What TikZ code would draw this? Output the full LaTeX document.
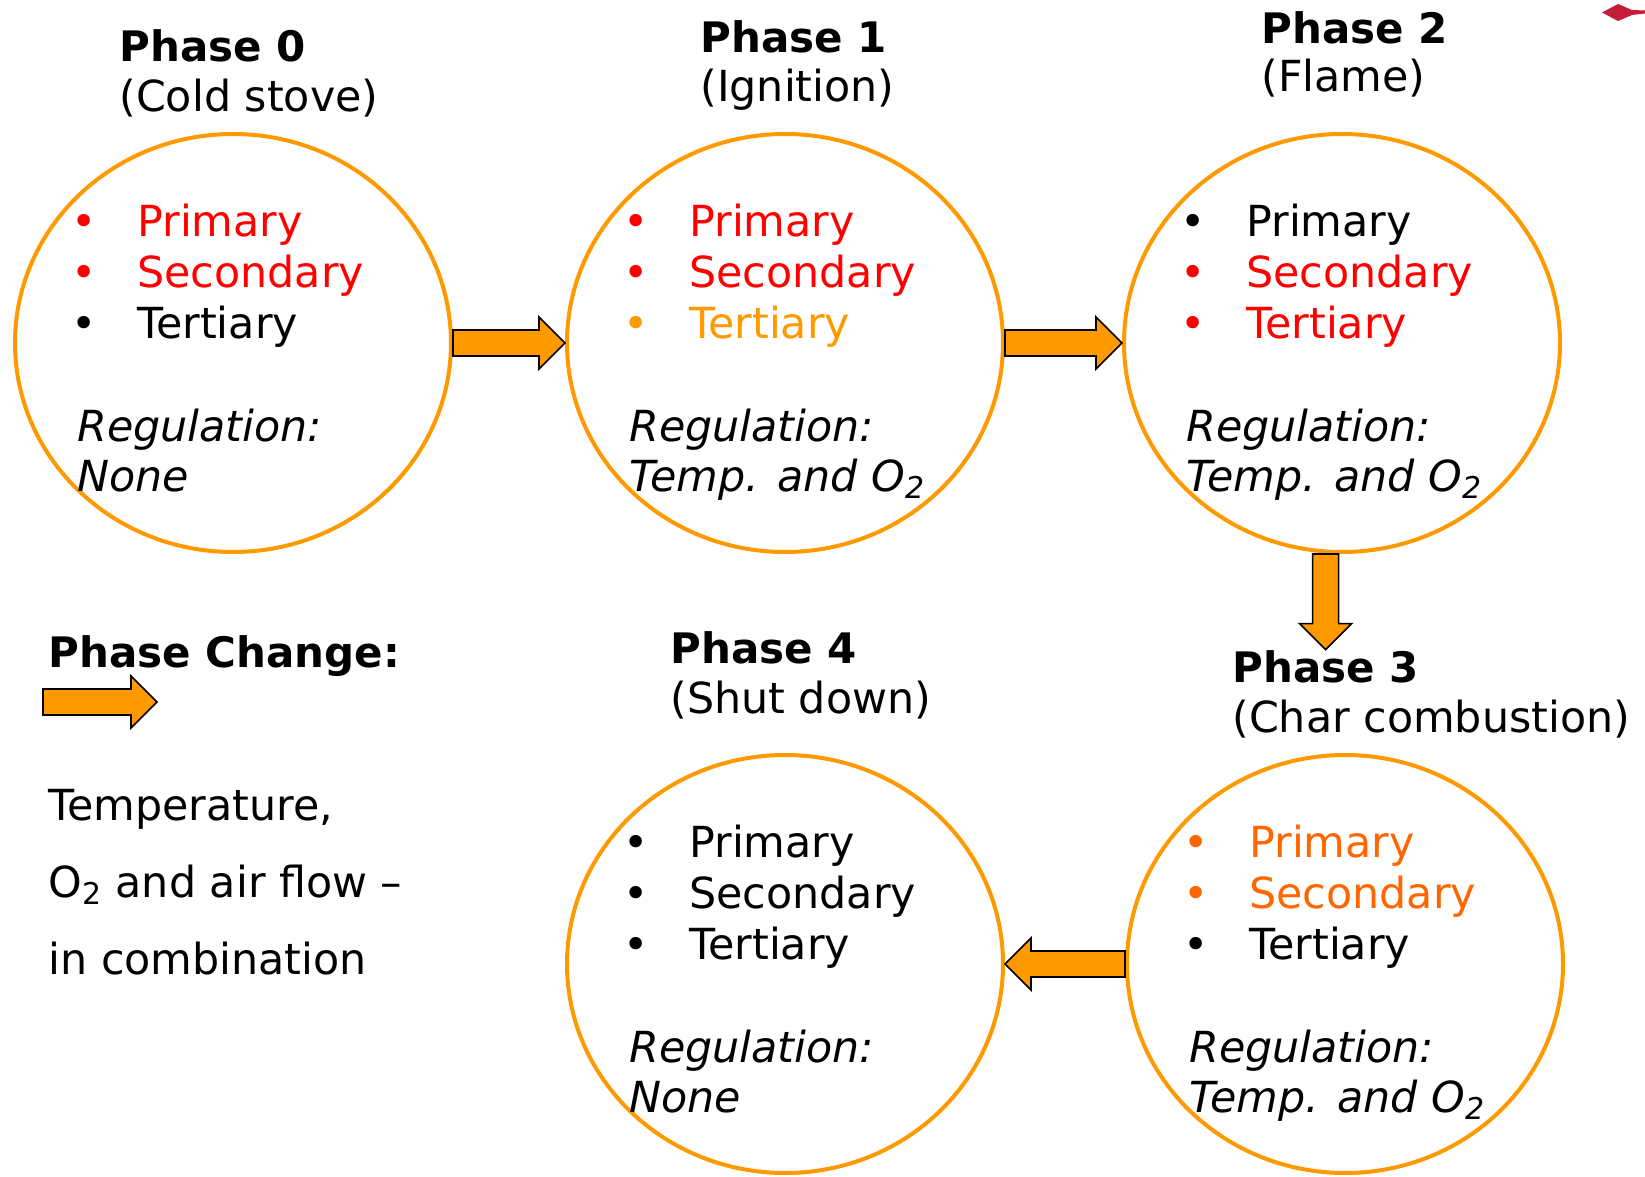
\documentclass[tikz,border=0pt]{standalone}
\usepackage{fontspec}
\setmainfont{DejaVu Sans}
\usetikzlibrary{shapes.geometric, positioning, calc}

\definecolor{stoveorange}{HTML}{FF9900}
\definecolor{charorange}{HTML}{FF6600}
\definecolor{logored}{HTML}{C41E3A}

% bullet hanging to the left of an item
\newcommand{\bitem}{\llap{\makebox[53pt]{\textbullet}}}

\begin{document}
\begin{tikzpicture}[
        x=0.5pt, y=-0.5pt,
        font=\fontsize{21.4}{25}\selectfont,
        Phase/.style={ellipse, draw=stoveorange, line width=2pt, minimum width=218pt, minimum height=209pt, inner sep=0pt},
        Title/.style={inner sep=0pt, anchor=base west, font=\fontsize{21}{25}\selectfont\bfseries},
        Sub/.style={inner sep=0pt, anchor=base west},
        Item/.style={inner sep=0pt, anchor=base west},
        Reg/.style={inner sep=0pt, anchor=base west, font=\fontsize{21.4}{25}\selectfont\itshape},
        Change/.style={draw=black, line width=0.8pt, fill=stoveorange, line join=miter,
            to path={-- ($(\tikztostart)!6.5pt!90:(\tikztotarget)$)
                -- ($(\tikztotarget)!13pt!(\tikztostart)!6.5pt!90:(\tikztotarget)$)
                -- ($(\tikztotarget)!13pt!(\tikztostart)!13pt!90:(\tikztotarget)$)
                -- (\tikztotarget)
                -- ($(\tikztotarget)!13pt!(\tikztostart)!13pt!-90:(\tikztotarget)$)
                -- ($(\tikztotarget)!13pt!(\tikztostart)!6.5pt!-90:(\tikztotarget)$)
                -- ($(\tikztostart)!6.5pt!-90:(\tikztotarget)$) -- cycle}}
    ]
    \useasboundingbox (0,0) rectangle (1645,1177);

    % Phase titles
    \node (t0) [Title] at (119,62) {Phase 0};
    \node (t0s) [Sub] at (119,112) {(Cold stove)};
    \node (t1) [Title] at (700,53) {Phase 1};
    \node (t1s) [Sub] at (700,102) {(Ignition)};
    \node (t2) [Title] at (1261,44) {Phase 2};
    \node (t2s) [Sub] at (1261,92) {(Flame)};
    \node (t3) [Title] at (1232,682) {Phase 3};
    \node (t3s) [Sub] at (1232,732) {(Char combustion)};
    \node (t4) [Title] at (670,663) {Phase 4};
    \node (t4s) [Sub] at (670,713) {(Shut down)};

    % Phase 0: cold stove
    \node (p0) [Phase] at (233,343) {};
    \coordinate (p0c) at (p0.west |- p0.north);
    \node (p0a) [Item, text=red, below right=52pt and 62pt of p0c, anchor=base west] {\bitem Primary};
    \node (p0b) [Item, text=red, below=25.5pt of p0a.base west, anchor=base west] {\bitem Secondary};
    \node (p0d) [Item, below=25.5pt of p0b.base west, anchor=base west] {\bitem Tertiary};
    \node (p0r) [Reg, below right=154.5pt and 32pt of p0c, anchor=base west] {Regulation:};
    \node (p0s) [Reg, below=25pt of p0r.base west, anchor=base west] {None};

    % Phase 1: ignition
    \node (p1) [Phase] at (785,343) {};
    \coordinate (p1c) at (p1.west |- p1.north);
    \node (p1a) [Item, text=red, below right=52pt and 62pt of p1c, anchor=base west] {\bitem Primary};
    \node (p1b) [Item, text=red, below=25.5pt of p1a.base west, anchor=base west] {\bitem Secondary};
    \node (p1d) [Item, text=stoveorange, below=25.5pt of p1b.base west, anchor=base west] {\bitem Tertiary};
    \node (p1r) [Reg, below right=154.5pt and 32pt of p1c, anchor=base west] {Regulation:};
    \node (p1s) [Reg, below=25pt of p1r.base west, anchor=base west] {Temp. and O\textsubscript{2}};

    % Phase 2: flame
    \node (p2) [Phase] at (1342,343) {};
    \coordinate (p2c) at (p2.west |- p2.north);
    \node (p2a) [Item, below right=52pt and 62pt of p2c, anchor=base west] {\bitem Primary};
    \node (p2b) [Item, text=red, below=25.5pt of p2a.base west, anchor=base west] {\bitem Secondary};
    \node (p2d) [Item, text=red, below=25.5pt of p2b.base west, anchor=base west] {\bitem Tertiary};
    \node (p2r) [Reg, below right=154.5pt and 32pt of p2c, anchor=base west] {Regulation:};
    \node (p2s) [Reg, below=25pt of p2r.base west, anchor=base west] {Temp. and O\textsubscript{2}};

    % Phase 3: char combustion
    \node (p3) [Phase] at (1345,964) {};
    \coordinate (p3c) at (p3.west |- p3.north);
    \node (p3a) [Item, text=charorange, below right=52pt and 62pt of p3c, anchor=base west] {\bitem Primary};
    \node (p3b) [Item, text=charorange, below=25.5pt of p3a.base west, anchor=base west] {\bitem Secondary};
    \node (p3d) [Item, below=25.5pt of p3b.base west, anchor=base west] {\bitem Tertiary};
    \node (p3r) [Reg, below right=154.5pt and 32pt of p3c, anchor=base west] {Regulation:};
    \node (p3s) [Reg, below=25pt of p3r.base west, anchor=base west] {Temp. and O\textsubscript{2}};

    % Phase 4: shut down
    \node (p4) [Phase] at (785,964) {};
    \coordinate (p4c) at (p4.west |- p4.north);
    \node (p4a) [Item, below right=52pt and 62pt of p4c, anchor=base west] {\bitem Primary};
    \node (p4b) [Item, below=25.5pt of p4a.base west, anchor=base west] {\bitem Secondary};
    \node (p4d) [Item, below=25.5pt of p4b.base west, anchor=base west] {\bitem Tertiary};
    \node (p4r) [Reg, below right=154.5pt and 32pt of p4c, anchor=base west] {Regulation:};
    \node (p4s) [Reg, below=25pt of p4r.base west, anchor=base west] {None};

    % Phase changes
    \draw[Change] (p0.east) to (p1.west);
    \draw[Change] (p1.east) to (p2.west);
    \draw[Change] (p2.south -| t3.north) to (t3.north);
    \draw[Change] (p3.west) to (p4.east);

    % Legend
    \node (lg) [Title] at (48,667) {Phase Change:};
    \coordinate (lgs) at (43,702);
    \coordinate (lge) at (157,702);
    \draw[Change] (lgs) to (lge);
    \node (lg1) [Sub] at (48,820) {Temperature,};
    \node (lg2) [Sub, below=38.5pt of lg1.base west, anchor=base west] {O\textsubscript{2} and air flow –};
    \node (lg3) [Sub, below=38.5pt of lg2.base west, anchor=base west] {in combination};

    % logo corner
    \fill[logored] (1602,12.5) -- (1618,4) -- (1632,10) -- (1645,10.5) -- (1645,13.5) -- (1632,15) -- (1618,21) -- cycle;

\end{tikzpicture}
\end{document}
